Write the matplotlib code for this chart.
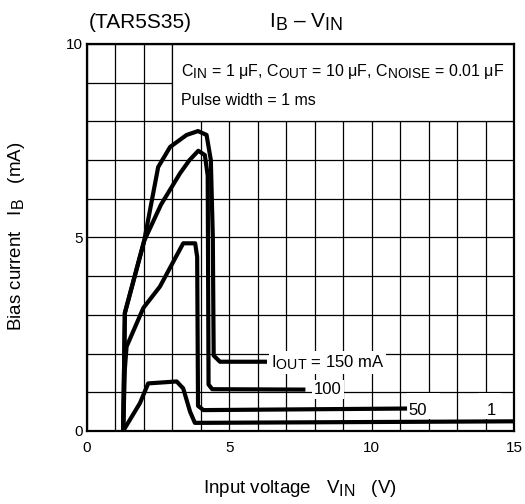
import matplotlib
matplotlib.use('Agg')
import matplotlib.pyplot as plt
from matplotlib.patches import Rectangle

try:
    # larger subscripts, closer to the datasheet look
    import matplotlib._mathtext as _mt
    _mt.SHRINK_FACTOR = 0.85
except Exception:
    pass

plt.rcParams['font.family'] = ['Liberation Sans', 'DejaVu Sans']
plt.rcParams['mathtext.fontset'] = 'custom'
plt.rcParams['mathtext.rm'] = 'Liberation Sans'
plt.rcParams['mathtext.it'] = 'Liberation Sans'
plt.rcParams['mathtext.default'] = 'rm'

# I_B - V_IN curves, one per output current
v150 = [1.27, 1.33, 2.0, 2.5, 2.92, 3.5, 3.9, 4.2, 4.35, 4.42, 4.45, 4.67, 6.25]
i150 = [0.0, 3.05, 4.88, 6.82, 7.34, 7.65, 7.75, 7.65, 7.0, 5.0, 1.95, 1.79, 1.79]

v100 = [1.27, 1.33, 2.0, 2.6, 3.27, 3.6, 3.91, 4.14, 4.24, 4.27, 4.4, 7.6]
i100 = [0.0, 3.05, 4.9, 5.85, 6.66, 7.0, 7.24, 7.13, 6.6, 1.2, 1.08, 1.07]

v50 = [1.27, 1.33, 1.39, 1.98, 2.56, 3.38, 3.8, 3.87, 3.9, 4.09, 11.17]
i50 = [0.0, 1.6, 2.18, 3.18, 3.73, 4.85, 4.85, 4.5, 0.65, 0.54, 0.58]

v1 = [1.27, 1.86, 2.15, 3.15, 3.38, 3.62, 3.79, 15.0]
i1 = [0.0, 0.72, 1.23, 1.28, 1.1, 0.5, 0.21, 0.25]

xticks = [0, 5, 10, 15]
yticks = [0, 5, 10]

fig = plt.figure(figsize=(5.25, 5.04), dpi=100)
ax = fig.add_axes([87 / 525, 1 - 431 / 504, 427 / 525, 387 / 504])

ax.set_xlim(0, 15)
ax.set_ylim(0, 10)
ax.set_xticks(xticks)
ax.set_yticks(yticks)
ax.set_xticks(range(16), minor=True)
ax.set_yticks(range(11), minor=True)
ax.tick_params(which='both', length=0, labelsize=11)
ax.tick_params(axis='x', pad=7)
ax.tick_params(axis='y', pad=3)
ax.set_axisbelow(True)
ax.grid(which='both', color='black', lw=0.9)
for s in ax.spines.values():
    s.set_linewidth(1.6)

# condition box in the upper right
ax.add_patch(Rectangle((3, 8), 12, 2, facecolor='white', edgecolor='black',
                       lw=0.9, zorder=1.5))
ax.text(3.3, 9.3, r'C$_{IN}$ = 1 μF, C$_{OUT}$ = 10 μF, C$_{NOISE}$ = 0.01 μF',
        fontsize=11.5, va='center', zorder=3)
ax.text(3.3, 8.55, 'Pulse width = 1 ms', fontsize=11.5, va='center', zorder=3)

# blank patches behind the small "50" and "1" labels
ax.add_patch(Rectangle((11.25, 0.3), 1.15, 0.68, facecolor='white',
                       edgecolor='none', zorder=1.5))
ax.add_patch(Rectangle((13.75, 0.3), 0.8, 0.68, facecolor='white',
                       edgecolor='none', zorder=1.5))

for v, i in [(v150, i150), (v100, i100), (v50, i50), (v1, i1)]:
    ax.plot(v, i, color='black', lw=3.0, solid_joinstyle='round', zorder=4)

box = dict(facecolor='white', edgecolor='none', pad=1.5)
ax.text(6.45, 1.77, r'I$_{OUT}$ = 150 mA', fontsize=12, va='center',
        bbox=box, zorder=3)
ax.text(8.47, 1.07, '100', fontsize=12, va='center', ha='center',
        bbox=box, zorder=3)
ax.text(11.63, 0.54, '50', fontsize=12, va='center', ha='center', zorder=3)
ax.text(14.21, 0.54, '1', fontsize=12, va='center', ha='center', zorder=3)

fig.text(140 / 525, 1 - 28 / 504, '(TAR5S35)', fontsize=15, ha='center',
         va='baseline')
fig.text(306 / 525, 1 - 28 / 504, r'I$_B$ – V$_{IN}$', fontsize=15,
         ha='center', va='baseline')
fig.text(300 / 525, 1 - 493 / 504, r'Input voltage   V$_{IN}$   (V)',
         fontsize=13.5, ha='center', va='baseline')
fig.text(17 / 525, 1 - 236 / 504, r'Bias current   I$_B$   (mA)',
         fontsize=13.5, ha='center', va='center', rotation=90)

fig.savefig('out.png', dpi=100)
